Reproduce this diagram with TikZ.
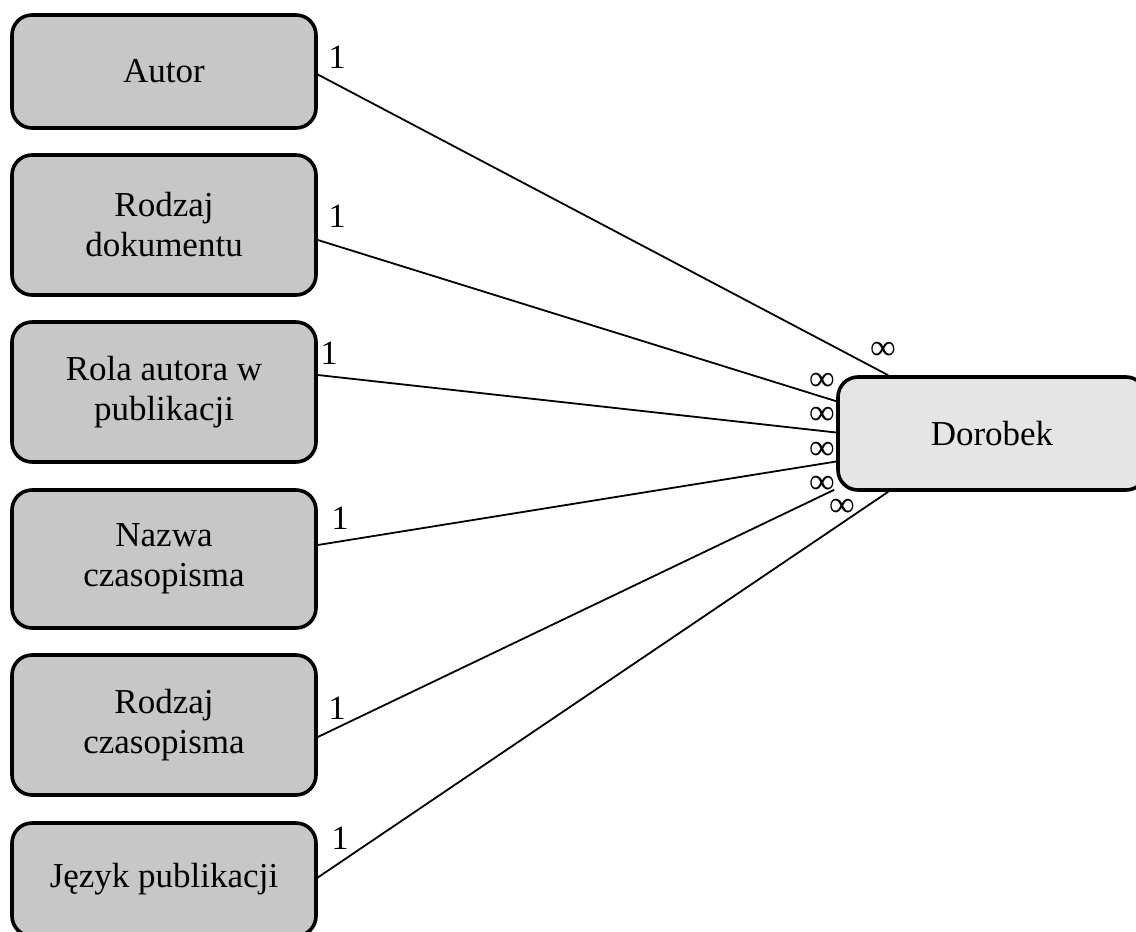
\documentclass[tikz,border=0pt]{standalone}
\usepackage{fontspec}
\setmainfont{Liberation Serif}
\usetikzlibrary{calc}
\begin{document}
\begin{tikzpicture}[x=1pt,y=-1pt,
  ent/.style={draw=black, line width=3.6pt, rounded corners=20pt, fill=black!22,
    minimum width=304pt, align=center, inner sep=0pt,
    font=\fontsize{35}{40}\selectfont},
  mainent/.style={ent, fill=black!10, minimum width=308pt},
  link/.style={line width=1.8pt},
  one/.style={font=\fontsize{34}{34}\selectfont, inner sep=0pt, text height=23pt, text depth=0pt},
  many/.style={font=\fontsize{36}{36}\selectfont, inner sep=0pt, text height=16pt, text depth=0pt}]
\useasboundingbox (0,0) rectangle (1136,932);
\fill[white] (0,0) rectangle (1136,932);

\node[ent, minimum height=113pt] (autor) at (164,71.5) {Autor};
\node[ent, minimum height=140pt] (dok) at (164,225) {Rodzaj\\dokumentu};
\node[ent, minimum height=140pt] (rola) at (164,392) {Rola autora w\\publikacji};
\node[ent, minimum height=138pt] (nazwa) at (164,559) {Nazwa\\czasopisma};
\node[ent, minimum height=140pt] (rcz) at (164,725) {Rodzaj\\czasopisma};
\node[ent, minimum height=113pt] (jezyk) at (164,879.5) {Język publikacji};

\node[mainent, minimum height=113pt] (dor) at (992,433.5) {Dorobek};

\draw[link] ($(autor.east)+(0,3)$) -- ($(dor.north west)+(52,0)$);
\draw[link] ($(dok.east)+(0,15)$) -- ($(dor.north west)+(0,26)$);
\draw[link] ($(rola.east)+(0,-17)$) -- ($(dor.west)+(0,-1)$);
\draw[link] ($(nazwa.east)+(0,-14)$) -- ($(dor.west)+(0,28)$);
\draw[link] ($(rcz.east)+(0,12)$) -- ($(dor.south west)+(-2,-2)$);
\draw[link] ($(jezyk.east)+(0,-2)$) -- ($(dor.south west)+(52,0)$);

\node[one] (o1) at (337,56.5) {1};
\node[one] (o2) at (337,216) {1};
\node[one] (o3) at (329,353) {1};
\node[one] (o4) at (340,518) {1};
\node[one] (o5) at (337,708) {1};
\node[one] (o6) at (340,838) {1};

\node[many] (m1) at (883,351) {∞};
\node[many] (m2) at (822,382) {∞};
\node[many] (m3) at (822,416) {∞};
\node[many] (m4) at (822,451) {∞};
\node[many] (m5) at (822,485) {∞};
\node[many] (m6) at (842,508) {∞};
\end{tikzpicture}
\end{document}
